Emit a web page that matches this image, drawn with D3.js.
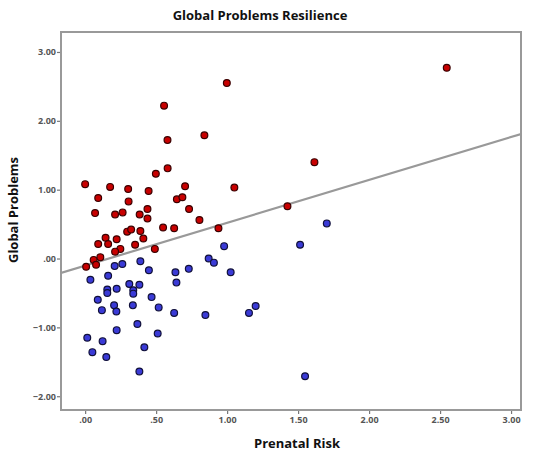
<!DOCTYPE html>
<html>
<head>
<meta charset="utf-8">
<script src="https://cdn.jsdelivr.net/npm/d3@7"></script>
<style>
  body { margin: 0; background: #fff; }
  text { font-family: "Open Sans", "DejaVu Sans", sans-serif; }
</style>
</head>
<body>
<div id="chart"></div>
<script>
// values
const redX = [0.00, 0.176, 0.303, 0.447, 0.498, 0.581, 0.704, 1.051, 0.092, 0.306, 0.646, 0.685,
  0.070, 0.211, 0.264, 0.384, 0.439, 0.439, 0.732, 0.805, 0.296, 0.324, 0.389, 0.410, 0.549,
  0.627, 0.939, 0.144, 0.222, 0.092, 0.162, 0.352, 0.248, 0.211, 0.491, 0.060, 0.107, 0.077,
  0.007, 0.556, 0.580, 0.840, 0.998, 2.547, 1.615, 1.425];
const redY = [1.08, 1.04, 1.01, 0.98, 1.23, 1.31, 1.05, 1.03, 0.88, 0.83, 0.86, 0.89,
  0.66, 0.64, 0.67, 0.64, 0.72, 0.58, 0.72, 0.56, 0.39, 0.42, 0.40, 0.29, 0.45,
  0.44, 0.44, 0.30, 0.28, 0.21, 0.21, 0.20, 0.14, 0.10, 0.14, -0.02, 0.02, -0.09,
  -0.12, 2.22, 1.72, 1.79, 2.55, 2.77, 1.40, 0.76];
const blueX = [0.208, 0.262, 0.389, 0.449, 0.636, 0.730, 0.870, 0.907, 0.979, 1.025, 0.037, 0.162,
  0.643, 0.311, 0.382, 0.156, 0.156, 0.222, 0.339, 0.339, 0.089, 0.468, 0.118, 0.204, 0.220,
  0.336, 0.518, 0.627, 0.847, 1.154, 1.201, 0.368, 0.222, 0.511, 0.015, 0.123, 0.417, 0.051,
  0.149, 0.382, 1.514, 1.702, 1.549];
const blueY = [-0.11, -0.08, -0.04, -0.17, -0.20, -0.15, 0.00, -0.06, 0.18, -0.20, -0.31, -0.25,
  -0.35, -0.37, -0.38, -0.45, -0.50, -0.44, -0.46, -0.51, -0.60, -0.56, -0.75, -0.68, -0.77,
  -0.68, -0.71, -0.79, -0.82, -0.79, -0.69, -0.95, -1.04, -1.09, -1.15, -1.20, -1.29, -1.36,
  -1.43, -1.64, 0.20, 0.51, -1.71];
const xTicks = [0, 0.5, 1, 1.5, 2, 2.5, 3];
const yTicks = [-2, -1, 0, 1, 2, 3];
const fitIntercept = -0.104;
const fitSlope = 0.623;

const width = 536;
const height = 456;
const plotLeft = 61, plotRight = 521, plotTop = 32, plotBottom = 410;

const svg = d3.select("#chart").append("svg")
  .attr("width", width)
  .attr("height", height);

//----------------------------SCALES-----------------------------//
const xScale = d3.scaleLinear().domain([-0.17, 3.07]).range([plotLeft, plotRight]);
const yScale = d3.scaleLinear().domain([-2.2, 3.29]).range([plotBottom, plotTop]);

const fmt = function (d) {
  return d3.format(".2f")(d).replace(/^(-?)0\./, "$1.");
};

//-----------------------------AXES------------------------------//
const yaxis = d3.axisLeft(yScale).tickValues(yTicks).tickFormat(fmt).tickSize(4).tickPadding(1);
const xaxis = d3.axisBottom(xScale).tickValues(xTicks).tickFormat(fmt).tickSize(4).tickPadding(3);

const gy = svg.append("g")
  .attr("transform", "translate(" + plotLeft + ",0)")
  .call(yaxis);
const gx = svg.append("g")
  .attr("transform", "translate(0," + plotBottom + ")")
  .call(xaxis);

[gx, gy].forEach(function (g) {
  g.select(".domain").remove();
  g.selectAll(".tick line").attr("stroke", "#777").attr("stroke-width", 1.2);
  g.selectAll(".tick text")
    .style("font-family", "'Open Sans', sans-serif")
    .style("font-size", "9px")
    .style("font-weight", "bold")
    .attr("fill", "#555");
});

// frame
svg.append("rect")
  .attr("x", plotLeft)
  .attr("y", plotTop)
  .attr("width", plotRight - plotLeft)
  .attr("height", plotBottom - plotTop)
  .attr("fill", "none")
  .attr("stroke", "#999")
  .attr("stroke-width", 2);

//----------------------------FIT LINE---------------------------//
svg.append("clipPath").attr("id", "plotclip")
  .append("rect")
  .attr("x", plotLeft).attr("y", plotTop)
  .attr("width", plotRight - plotLeft).attr("height", plotBottom - plotTop);

const x0 = xScale.domain()[0], x1 = xScale.domain()[1];
svg.append("line")
  .attr("clip-path", "url(#plotclip)")
  .attr("x1", xScale(x0))
  .attr("y1", yScale(fitIntercept + fitSlope * x0))
  .attr("x2", xScale(x1))
  .attr("y2", yScale(fitIntercept + fitSlope * x1))
  .attr("stroke", "#999")
  .attr("stroke-width", 2.2);

//----------------------------POINTS-----------------------------//
const groups = [
  { xs: redX, ys: redY, fill: "#c80000", stroke: "#3a0000" },
  { xs: blueX, ys: blueY, fill: "#3a3ad6", stroke: "#10103a" }
];

groups.forEach(function (grp) {
  const pts = grp.xs.map(function (x, i) { return { x: x, y: grp.ys[i] }; });
  svg.append("g").selectAll("circle")
    .data(pts)
    .enter()
    .append("circle")
    .attr("cx", function (d) { return xScale(d.x); })
    .attr("cy", function (d) { return yScale(d.y); })
    .attr("r", 3.4)
    .attr("fill", grp.fill)
    .attr("stroke", grp.stroke)
    .attr("stroke-width", 1.2);
});

//----------------------------TITLES-----------------------------//
svg.append("text")
  .attr("x", 260)
  .attr("y", 20)
  .attr("text-anchor", "middle")
  .style("font-size", "13px")
  .style("font-weight", "bold")
  .attr("fill", "#111")
  .text("Global Problems Resilience");

svg.append("text")
  .attr("x", 297)
  .attr("y", 448)
  .attr("text-anchor", "middle")
  .style("font-size", "13px")
  .style("font-weight", "bold")
  .attr("fill", "#111")
  .text("Prenatal Risk");

svg.append("text")
  .attr("transform", "translate(18,210) rotate(-90)")
  .attr("text-anchor", "middle")
  .style("font-size", "13px")
  .style("font-weight", "bold")
  .attr("fill", "#111")
  .text("Global Problems");
</script>
</body>
</html>
